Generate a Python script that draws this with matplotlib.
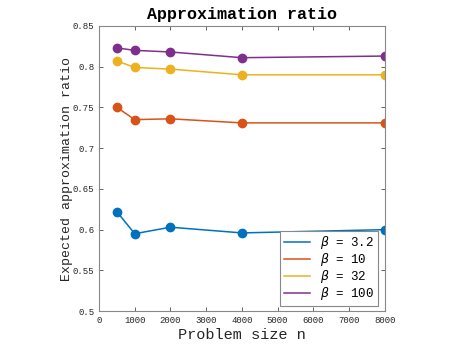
import matplotlib.pyplot as plt

# problem sizes and approximation ratios for each beta
sizes = [500, 1000, 2000, 4000, 8000]
betas = ["3.2", "10", "32", "100"]
ratio_b3 = [0.622, 0.595, 0.603, 0.596, 0.600]
ratio_b10 = [0.750, 0.735, 0.736, 0.731, 0.731]
ratio_b32 = [0.807, 0.799, 0.797, 0.790, 0.790]
ratio_b100 = [0.823, 0.820, 0.818, 0.811, 0.813]
colors = ["#0072BD", "#D95319", "#EDB120", "#7E2F8E"]

plt.rcParams["font.family"] = ["Liberation Mono", "DejaVu Sans Mono"]

fig = plt.figure(figsize=(4.67, 3.5), dpi=100)
ax = fig.add_axes([0.212, 0.111, 0.612, 0.815])

for vals, b, c in zip([ratio_b3, ratio_b10, ratio_b32, ratio_b100], betas, colors):
    ax.plot(sizes, vals, color=c, marker="o", markersize=6, linewidth=1.1,
            label=r"$\beta$ = " + b)

ax.set_xlim(0, 8000)
ax.set_ylim(0.5, 0.85)
ax.set_xticks(range(0, 8001, 1000))
ax.set_yticks([0.5, 0.55, 0.6, 0.65, 0.7, 0.75, 0.8, 0.85])
ax.set_yticklabels(["0.5", "0.55", "0.6", "0.65", "0.7", "0.75", "0.8", "0.85"])
ax.tick_params(direction="in", top=True, right=True, labelsize=6.5,
               colors="#262626", length=3, width=0.5)
for s in ax.spines.values():
    s.set_color("#888888")
    s.set_linewidth(0.8)

ax.set_xlabel("Problem size n", fontsize=11, color="#262626", labelpad=2)
ax.set_ylabel("Expected approximation ratio", fontsize=9.5, color="#262626",
              labelpad=0)
ax.set_title("Approximation ratio", fontsize=12, fontweight="bold", pad=5)

leg = ax.legend(loc="lower right", fontsize=9, fancybox=False, framealpha=1,
                edgecolor="#888888", handlelength=2.1, borderpad=0.3,
                labelspacing=0.0, handletextpad=0.8, borderaxespad=0,
                bbox_to_anchor=(0.9755, 0.0175))
leg.get_frame().set_linewidth(0.8)
for line in leg.get_lines():
    line.set_marker("")

fig.savefig("out.png", dpi=100)
